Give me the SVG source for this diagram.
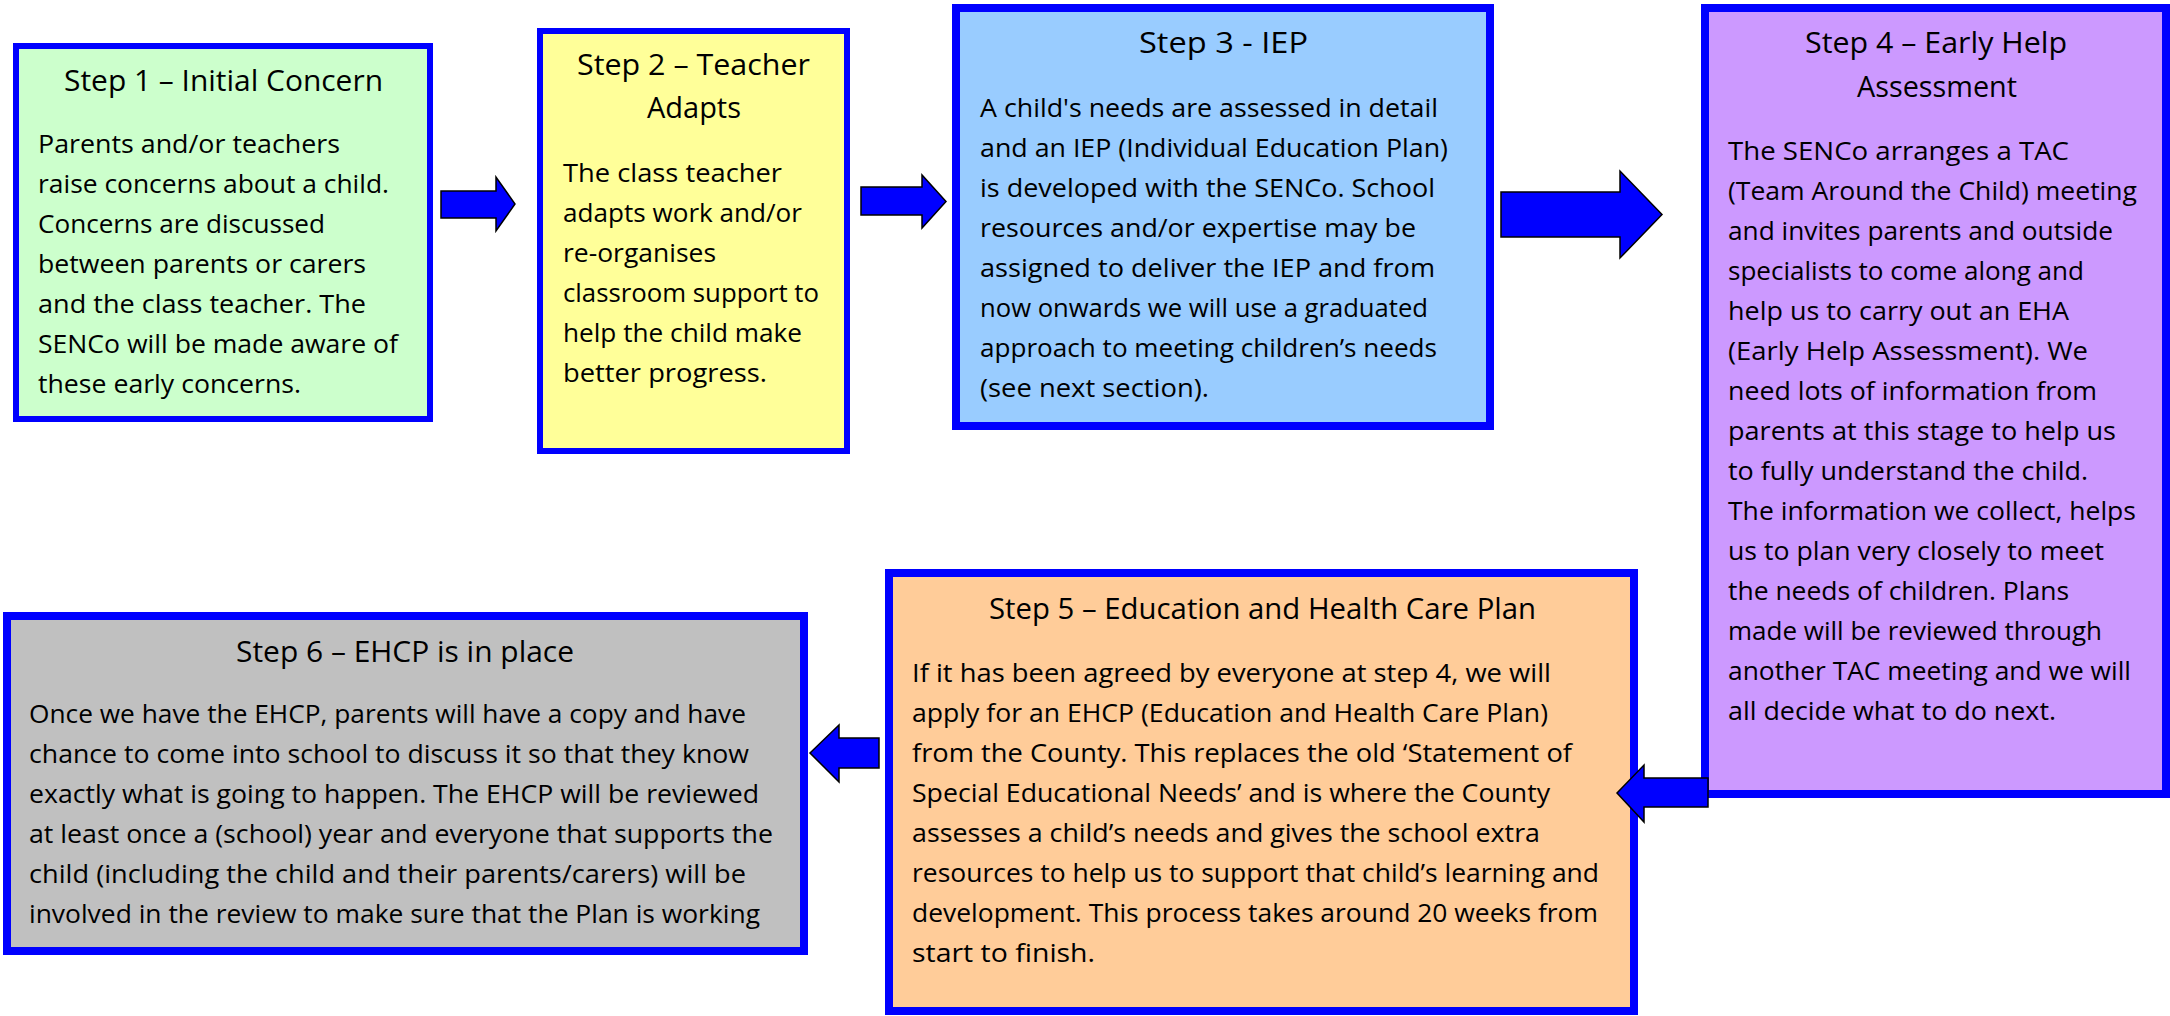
<svg xmlns="http://www.w3.org/2000/svg" width="2170" height="1016" viewBox="0 0 2170 1016">
<style>
.box { stroke: #0000FF; }
.t { font-family: 'Open Sans', 'Noto Sans', sans-serif; font-size: 29px; fill: #000; }
.b { font-family: 'Open Sans', 'Noto Sans', sans-serif; font-size: 26px; fill: #000; }
.arrow { fill: #0000FF; stroke: #000; stroke-width: 1.5; stroke-linejoin: miter; }
</style>
<rect width="2170" height="1016" fill="#FFFFFF"/>

<g id="step1">
<rect class="box" x="16" y="46" width="414" height="373" fill="#CCFFCC" stroke-width="6"/>
<text class="t" x="64" y="91" textLength="319" lengthAdjust="spacingAndGlyphs">Step 1 – Initial Concern</text>
<text class="b" x="38" y="153" textLength="302" lengthAdjust="spacingAndGlyphs">Parents and/or teachers</text>
<text class="b" x="38" y="193" textLength="351" lengthAdjust="spacingAndGlyphs">raise concerns about a child.</text>
<text class="b" x="38" y="233" textLength="287" lengthAdjust="spacingAndGlyphs">Concerns are discussed</text>
<text class="b" x="38" y="273" textLength="328" lengthAdjust="spacingAndGlyphs">between parents or carers</text>
<text class="b" x="38" y="313" textLength="328" lengthAdjust="spacingAndGlyphs">and the class teacher. The</text>
<text class="b" x="38" y="353" textLength="360" lengthAdjust="spacingAndGlyphs">SENCo will be made aware of</text>
<text class="b" x="38" y="393" textLength="263" lengthAdjust="spacingAndGlyphs">these early concerns.</text>
</g>

<g id="step2">
<rect class="box" x="540" y="31" width="307" height="420" fill="#FFFF99" stroke-width="6"/>
<text class="t" x="577" y="75" textLength="233" lengthAdjust="spacingAndGlyphs">Step 2 – Teacher</text>
<text class="t" x="647" y="118" textLength="94" lengthAdjust="spacingAndGlyphs">Adapts</text>
<text class="b" x="563" y="182" textLength="219" lengthAdjust="spacingAndGlyphs">The class teacher</text>
<text class="b" x="563" y="222" textLength="239" lengthAdjust="spacingAndGlyphs">adapts work and/or</text>
<text class="b" x="563" y="262" textLength="153" lengthAdjust="spacingAndGlyphs">re-organises</text>
<text class="b" x="563" y="302" textLength="256" lengthAdjust="spacingAndGlyphs">classroom support to</text>
<text class="b" x="563" y="342" textLength="239" lengthAdjust="spacingAndGlyphs">help the child make</text>
<text class="b" x="563" y="382" textLength="204" lengthAdjust="spacingAndGlyphs">better progress.</text>
</g>

<g id="step3">
<rect class="box" x="956" y="8" width="534" height="418" fill="#99CCFF" stroke-width="8"/>
<text class="t" x="1139" y="53" textLength="169" lengthAdjust="spacingAndGlyphs">Step 3 - IEP</text>
<text class="b" x="980" y="117" textLength="458" lengthAdjust="spacingAndGlyphs">A child's needs are assessed in detail</text>
<text class="b" x="980" y="157" textLength="468" lengthAdjust="spacingAndGlyphs">and an IEP (Individual Education Plan)</text>
<text class="b" x="980" y="197" textLength="455" lengthAdjust="spacingAndGlyphs">is developed with the SENCo. School</text>
<text class="b" x="980" y="237" textLength="436" lengthAdjust="spacingAndGlyphs">resources and/or expertise may be</text>
<text class="b" x="980" y="277" textLength="455" lengthAdjust="spacingAndGlyphs">assigned to deliver the IEP and from</text>
<text class="b" x="980" y="317" textLength="448" lengthAdjust="spacingAndGlyphs">now onwards we will use a graduated</text>
<text class="b" x="980" y="357" textLength="457" lengthAdjust="spacingAndGlyphs">approach to meeting children’s needs</text>
<text class="b" x="980" y="397" textLength="229" lengthAdjust="spacingAndGlyphs">(see next section).</text>
</g>

<g id="step4">
<rect class="box" x="1705" y="8" width="461" height="786" fill="#CC99FF" stroke-width="8"/>
<text class="t" x="1805" y="53" textLength="262" lengthAdjust="spacingAndGlyphs">Step 4 – Early Help</text>
<text class="t" x="1857" y="97" textLength="160" lengthAdjust="spacingAndGlyphs">Assessment</text>
<text class="b" x="1728" y="160" textLength="341" lengthAdjust="spacingAndGlyphs">The SENCo arranges a TAC</text>
<text class="b" x="1728" y="200" textLength="409" lengthAdjust="spacingAndGlyphs">(Team Around the Child) meeting</text>
<text class="b" x="1728" y="240" textLength="385" lengthAdjust="spacingAndGlyphs">and invites parents and outside</text>
<text class="b" x="1728" y="280" textLength="356" lengthAdjust="spacingAndGlyphs">specialists to come along and</text>
<text class="b" x="1728" y="320" textLength="341" lengthAdjust="spacingAndGlyphs">help us to carry out an EHA</text>
<text class="b" x="1728" y="360" textLength="360" lengthAdjust="spacingAndGlyphs">(Early Help Assessment). We</text>
<text class="b" x="1728" y="400" textLength="369" lengthAdjust="spacingAndGlyphs">need lots of information from</text>
<text class="b" x="1728" y="440" textLength="388" lengthAdjust="spacingAndGlyphs">parents at this stage to help us</text>
<text class="b" x="1728" y="480" textLength="360" lengthAdjust="spacingAndGlyphs">to fully understand the child.</text>
<text class="b" x="1728" y="520" textLength="408" lengthAdjust="spacingAndGlyphs">The information we collect, helps</text>
<text class="b" x="1728" y="560" textLength="376" lengthAdjust="spacingAndGlyphs">us to plan very closely to meet</text>
<text class="b" x="1728" y="600" textLength="341" lengthAdjust="spacingAndGlyphs">the needs of children. Plans</text>
<text class="b" x="1728" y="640" textLength="374" lengthAdjust="spacingAndGlyphs">made will be reviewed through</text>
<text class="b" x="1728" y="680" textLength="403" lengthAdjust="spacingAndGlyphs">another TAC meeting and we will</text>
<text class="b" x="1728" y="720" textLength="328" lengthAdjust="spacingAndGlyphs">all decide what to do next.</text>
</g>

<g id="step5">
<rect class="box" x="889" y="573" width="745" height="438" fill="#FFCC99" stroke-width="8"/>
<text class="t" x="989" y="619" textLength="547" lengthAdjust="spacingAndGlyphs">Step 5 – Education and Health Care Plan</text>
<text class="b" x="912" y="682" textLength="639" lengthAdjust="spacingAndGlyphs">If it has been agreed by everyone at step 4, we will</text>
<text class="b" x="912" y="722" textLength="636" lengthAdjust="spacingAndGlyphs">apply for an EHCP (Education and Health Care Plan)</text>
<text class="b" x="912" y="762" textLength="660" lengthAdjust="spacingAndGlyphs">from the County. This replaces the old ‘Statement of</text>
<text class="b" x="912" y="802" textLength="638" lengthAdjust="spacingAndGlyphs">Special Educational Needs’ and is where the County</text>
<text class="b" x="912" y="842" textLength="628" lengthAdjust="spacingAndGlyphs">assesses a child’s needs and gives the school extra</text>
<text class="b" x="912" y="882" textLength="687" lengthAdjust="spacingAndGlyphs">resources to help us to support that child’s learning and</text>
<text class="b" x="912" y="922" textLength="686" lengthAdjust="spacingAndGlyphs">development. This process takes around 20 weeks from</text>
<text class="b" x="912" y="962" textLength="183" lengthAdjust="spacingAndGlyphs">start to finish.</text>
</g>

<g id="step6">
<rect class="box" x="7" y="616" width="797" height="335" fill="#C0C0C0" stroke-width="8"/>
<text class="t" x="236" y="662" textLength="338" lengthAdjust="spacingAndGlyphs">Step 6 – EHCP is in place</text>
<text class="b" x="29" y="723" textLength="717" lengthAdjust="spacingAndGlyphs">Once we have the EHCP, parents will have a copy and have</text>
<text class="b" x="29" y="763" textLength="720" lengthAdjust="spacingAndGlyphs">chance to come into school to discuss it so that they know</text>
<text class="b" x="29" y="803" textLength="730" lengthAdjust="spacingAndGlyphs">exactly what is going to happen. The EHCP will be reviewed</text>
<text class="b" x="29" y="843" textLength="744" lengthAdjust="spacingAndGlyphs">at least once a (school) year and everyone that supports the</text>
<text class="b" x="29" y="883" textLength="717" lengthAdjust="spacingAndGlyphs">child (including the child and their parents/carers) will be</text>
<text class="b" x="29" y="923" textLength="731" lengthAdjust="spacingAndGlyphs">involved in the review to make sure that the Plan is working</text>
</g>

<g id="connectors">
<polygon id="arrow1-2" class="arrow" points="441,191 496,191 496,177 515,204 496,231 496,218 441,218"/>
<polygon id="arrow2-3" class="arrow" points="861,187 922,187 922,175 946,201.5 922,228 922,215 861,215"/>
<polygon id="arrow3-4" class="arrow" points="1501,192 1620,192 1620,171 1662,214.5 1620,258 1620,237 1501,237"/>
<polygon id="arrow4-5" class="arrow" points="1617,793 1644,765 1644,778 1708,778 1708,807 1644,807 1644,822"/>
<polygon id="arrow5-6" class="arrow" points="810,753 839,725 839,738 879,738 879,768 839,768 839,782"/>
</g>
</svg>
